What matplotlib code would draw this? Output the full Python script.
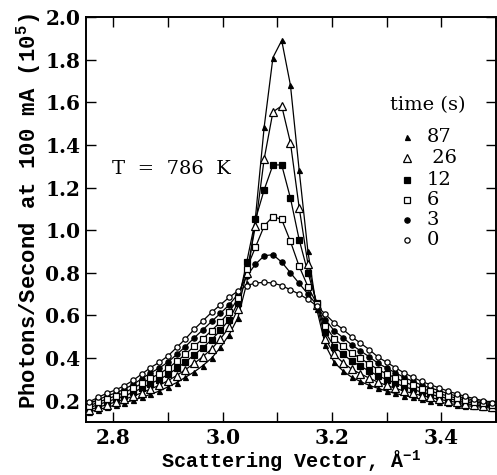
#!/usr/bin/env python3
"""
Scattering peak growth at T = 786 K: intensity vs scattering vector
for several annealing times.
"""

import matplotlib
matplotlib.use('Agg')
import matplotlib.pyplot as plt
from matplotlib.ticker import MultipleLocator

# Scattering vector (1/Angstrom), shared by all scans
q = [2.756, 2.772, 2.788, 2.804, 2.820, 2.836, 2.852, 2.868, 2.884, 2.900,
     2.916, 2.932, 2.948, 2.964, 2.980, 2.996, 3.012, 3.028, 3.044, 3.060,
     3.076, 3.092, 3.108, 3.124, 3.140, 3.156, 3.172, 3.188, 3.204, 3.220,
     3.236, 3.252, 3.268, 3.284, 3.300, 3.316, 3.332, 3.348, 3.364, 3.380,
     3.396, 3.412, 3.428, 3.444, 3.460, 3.476, 3.492]

# Photons/second at 100 mA (units of 1e5), one list per time
t0 = [0.195, 0.215, 0.235, 0.250, 0.270, 0.295, 0.325, 0.355, 0.380, 0.410,
      0.450, 0.490, 0.535, 0.575, 0.615, 0.650, 0.685, 0.715, 0.740, 0.752,
      0.755, 0.752, 0.740, 0.720, 0.700, 0.675, 0.645, 0.605, 0.565, 0.535,
      0.500, 0.470, 0.440, 0.405, 0.380, 0.355, 0.330, 0.310, 0.290, 0.275,
      0.260, 0.245, 0.232, 0.220, 0.210, 0.200, 0.190]
t3 = [0.186, 0.204, 0.222, 0.236, 0.254, 0.276, 0.303, 0.330, 0.353, 0.381,
      0.417, 0.454, 0.495, 0.533, 0.572, 0.610, 0.650, 0.700, 0.785, 0.840,
      0.880, 0.885, 0.850, 0.800, 0.750, 0.700, 0.650, 0.580, 0.528, 0.496,
      0.462, 0.434, 0.406, 0.376, 0.353, 0.331, 0.309, 0.291, 0.273, 0.260,
      0.247, 0.233, 0.222, 0.211, 0.203, 0.194, 0.185]
t6 = [0.176, 0.192, 0.208, 0.222, 0.238, 0.258, 0.281, 0.305, 0.326, 0.352,
      0.384, 0.418, 0.455, 0.491, 0.529, 0.570, 0.615, 0.680, 0.820, 0.920,
      1.020, 1.064, 1.050, 0.947, 0.830, 0.735, 0.655, 0.550, 0.491, 0.457,
      0.424, 0.398, 0.373, 0.346, 0.326, 0.307, 0.288, 0.272, 0.257, 0.245,
      0.233, 0.222, 0.212, 0.203, 0.195, 0.188, 0.180]
t12 = [0.167, 0.181, 0.195, 0.208, 0.222, 0.239, 0.259, 0.280, 0.299, 0.323,
       0.351, 0.382, 0.415, 0.449, 0.486, 0.530, 0.580, 0.660, 0.850, 1.050,
       1.190, 1.306, 1.306, 1.150, 0.955, 0.800, 0.660, 0.520, 0.454, 0.418,
       0.386, 0.362, 0.339, 0.317, 0.299, 0.282, 0.266, 0.253, 0.240, 0.230,
       0.220, 0.210, 0.202, 0.194, 0.188, 0.181, 0.175]
t26 = [0.157, 0.169, 0.181, 0.194, 0.206, 0.221, 0.237, 0.255, 0.272, 0.294,
       0.318, 0.346, 0.375, 0.407, 0.443, 0.490, 0.545, 0.630, 0.800, 1.020,
       1.335, 1.555, 1.583, 1.410, 1.105, 0.840, 0.650, 0.490, 0.417, 0.379,
       0.348, 0.326, 0.306, 0.287, 0.272, 0.258, 0.245, 0.234, 0.224, 0.215,
       0.206, 0.199, 0.192, 0.186, 0.180, 0.175, 0.170]
t87 = [0.148, 0.158, 0.168, 0.180, 0.190, 0.202, 0.215, 0.230, 0.245, 0.265,
       0.285, 0.310, 0.335, 0.365, 0.400, 0.450, 0.510, 0.590, 0.750, 1.060,
       1.485, 1.810, 1.890, 1.680, 1.280, 0.900, 0.630, 0.460, 0.380, 0.340,
       0.310, 0.290, 0.272, 0.258, 0.245, 0.234, 0.224, 0.215, 0.207, 0.200,
       0.193, 0.187, 0.182, 0.177, 0.173, 0.169, 0.165]

times = ['87', '26', '12', '6', '3', '0']
series = [t87, t26, t12, t6, t3, t0]

# marker, filled?, size (pt)
styles = {
    '87': ('^', True, 3.6),
    '26': ('^', False, 5.5),
    '12': ('s', True, 3.8),
    '6': ('s', False, 3.8),
    '3': ('o', True, 3.8),
    '0': ('o', False, 3.8),
}

mono = 'Liberation Mono'
serif = 'DejaVu Serif'
plt.rcParams['mathtext.fontset'] = 'custom'
plt.rcParams['mathtext.rm'] = 'Liberation Mono:bold'
plt.rcParams['mathtext.it'] = 'Liberation Mono:bold'
plt.rcParams['mathtext.default'] = 'rm'

fig = plt.figure(figsize=(4.97, 4.75), dpi=100)
ax = fig.add_axes([0.173, 0.1116, 0.825, 0.8526])

for t, y in zip(times, series):
    m, filled, ms = styles[t]
    ax.plot(q, y, color='black', lw=0.9, marker=m, ms=ms,
            mfc='black' if filled else 'white', mec='black', mew=0.9,
            zorder=3 if filled else 4)

ax.set_xlim(2.75, 3.5)
ax.set_ylim(0.1, 2.0)
ax.xaxis.set_major_locator(MultipleLocator(0.2))
ax.xaxis.set_minor_locator(MultipleLocator(0.1))
ax.yaxis.set_major_locator(MultipleLocator(0.2))
ax.tick_params(which='both', direction='in', top=True, right=True,
               length=7, width=1.0, labelsize=14.5, pad=4)
ax.set_xticks([2.8, 3.0, 3.2, 3.4])
ax.set_yticks([0.2, 0.4, 0.6, 0.8, 1.0, 1.2, 1.4, 1.6, 1.8, 2.0])
for lab in ax.get_xticklabels() + ax.get_yticklabels():
    lab.set_fontfamily(serif)
    lab.set_fontweight('bold')
for sp in ax.spines.values():
    sp.set_linewidth(1.4)

ax.set_xlabel(r'Scattering Vector, Å$^{-1}$', fontfamily=mono,
              fontweight='bold', fontsize=14.5, labelpad=1)
fig.text(0.058, 0.555, r'Photons/Second at 100 mA (10$^{5}$)',
         rotation=90, ha='center', va='center', fontfamily=mono,
         fontweight='bold', fontsize=16)

ax.text(0.063, 0.625, 'T  =  786  K', transform=ax.transAxes,
        fontfamily=serif, fontsize=14, va='center')

# hand-placed legend, as in the original figure
ax.text(0.741, 0.783, 'time (s)', transform=ax.transAxes,
        fontfamily=serif, fontsize=14, va='center')
rows = [0.704, 0.652, 0.598, 0.548, 0.499, 0.449]
for t, yy in zip(times, rows):
    m, filled, ms = styles[t]
    ax.plot([0.783], [yy], transform=ax.transAxes, ls='none', marker=m,
            ms=ms, mfc='black' if filled else 'white', mec='black', mew=0.9,
            clip_on=False)
    ax.text(0.83, yy, ' ' + t if t == '26' else t, transform=ax.transAxes,
            fontfamily=serif, fontsize=14, va='center')

plt.savefig('out.png', dpi=100)
plt.close()
